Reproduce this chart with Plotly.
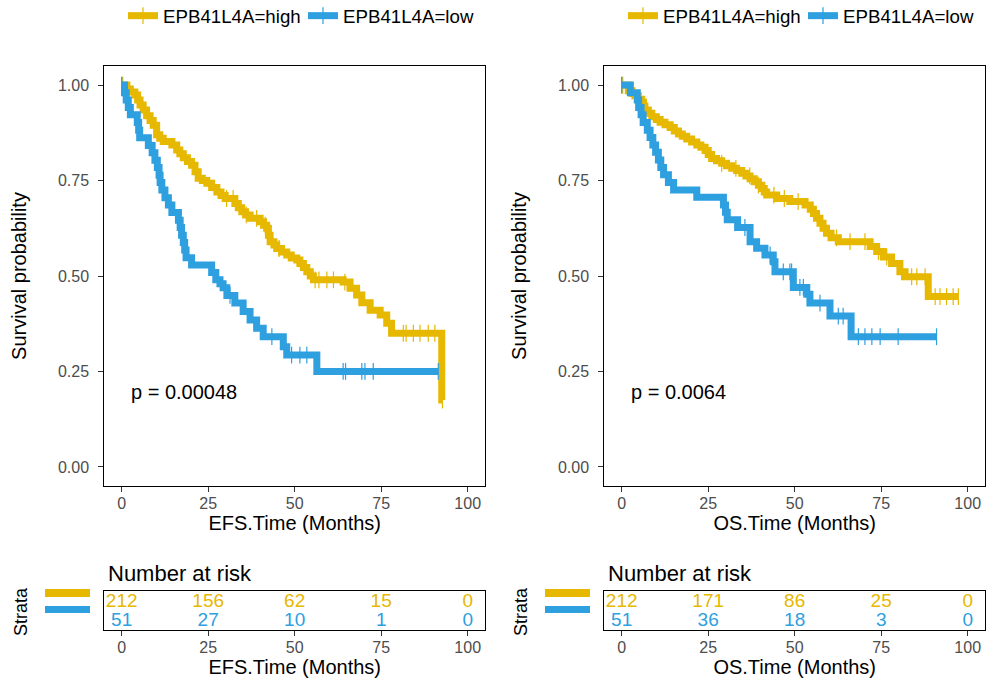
import plotly.graph_objects as go

HIGH_COL = "#E7B800"
LOW_COL = "#2E9FDF"
FONT = "Liberation Sans, Arial, sans-serif"
TICK_COL = "#4D4D4D"

# ---- EFS curves (time in months, survival after each drop) ----
efs_high_t = [1.5, 2.5, 3.8, 4.6, 5.3, 6.2, 7.2, 8.2, 9.1, 10.1, 11.0, 12.0, 14.5, 15.9,
              16.8, 17.8, 19.0, 20.2, 21.2, 22.1, 23.3, 24.6, 26.0, 27.5, 28.7, 29.9,
              32.7, 33.7, 34.7, 35.8, 37.1, 40.0, 41.0, 41.9, 42.4, 42.9, 44.0, 44.8,
              46.2, 47.7, 49.0, 50.6, 51.5, 52.5, 53.5, 54.5, 55.4, 64.0, 66.0, 67.9,
              69.4, 71.8, 74.7, 76.6, 78.0, 92.5]
efs_high_s = [0.990, 0.982, 0.974, 0.961, 0.948, 0.935, 0.920, 0.907, 0.895, 0.870, 0.861,
              0.852, 0.843, 0.830, 0.820, 0.810, 0.800, 0.790, 0.773, 0.756, 0.750, 0.743,
              0.732, 0.720, 0.711, 0.703, 0.690, 0.679, 0.668, 0.660, 0.651, 0.642, 0.633,
              0.625, 0.607, 0.590, 0.581, 0.572, 0.563, 0.555, 0.547, 0.542, 0.533, 0.522,
              0.511, 0.500, 0.490, 0.484, 0.468, 0.450, 0.430, 0.410, 0.398, 0.376, 0.350,
              0.175]
efs_high_cens = [0.3, 30.3, 32.2, 36.0, 39.0, 41.5, 45.5, 55.9, 57.0, 59.3, 61.2, 64.5,
                 81.4, 82.2, 84.3, 86.2, 88.6, 90.5, 92.7]

efs_low_t = [0.8, 1.3, 1.9, 2.5, 4.5, 4.9, 5.2, 7.7, 8.8, 9.6, 10.3, 10.8, 11.1, 11.6,
             12.5, 13.5, 14.5, 16.4, 16.9, 17.3, 17.8, 18.2, 18.6, 20.2, 26.0, 27.2,
             28.4, 29.3, 30.4, 32.7, 35.1, 37.1, 39.0, 40.9, 46.7, 47.7, 56.4]
efs_low_s = [0.980, 0.961, 0.941, 0.922, 0.902, 0.882, 0.862, 0.842, 0.823, 0.803, 0.784,
             0.764, 0.745, 0.725, 0.705, 0.686, 0.666, 0.646, 0.627, 0.607, 0.588, 0.568,
             0.548, 0.529, 0.509, 0.490, 0.480, 0.469, 0.449, 0.429, 0.407, 0.385, 0.363,
             0.341, 0.315, 0.293, 0.250]
efs_low_cens = [31.3, 43.4, 49.1, 51.5, 53.5, 64.0, 64.7, 69.4, 70.3, 72.7, 91.5]

# ---- OS curves ----
os_high_t = [1.9, 3.0, 3.8, 4.8, 5.8, 6.3, 6.7, 7.7, 8.7, 10.0, 11.1, 12.5, 14.0, 15.2,
             16.4, 17.5, 18.8, 20.2, 21.7, 22.9, 24.1, 25.0, 26.0, 27.4, 28.9, 30.3,
             31.8, 33.2, 34.7, 35.9, 37.1, 38.3, 39.5, 40.5, 41.2, 41.9, 44.8, 48.6,
             53.0, 54.5, 55.4, 56.3, 57.3, 58.2, 59.2, 60.5, 62.6, 71.8, 73.7, 75.6,
             78.0, 80.4, 81.9, 88.6]
os_high_s = [0.985, 0.978, 0.972, 0.963, 0.955, 0.945, 0.935, 0.926, 0.917, 0.910, 0.903,
             0.896, 0.889, 0.880, 0.872, 0.866, 0.859, 0.851, 0.843, 0.837, 0.829, 0.818,
             0.808, 0.802, 0.795, 0.789, 0.782, 0.776, 0.769, 0.762, 0.755, 0.747, 0.738,
             0.729, 0.720, 0.712, 0.703, 0.695, 0.686, 0.675, 0.664, 0.651, 0.638, 0.625,
             0.612, 0.600, 0.590, 0.577, 0.564, 0.550, 0.533, 0.511, 0.498, 0.446]
os_high_cens = [0.3, 28.9, 33.0, 37.0, 39.5, 44.0, 47.0, 51.0, 62.1, 66.0, 70.3, 74.2,
                76.6, 80.9, 83.8, 85.3, 87.7, 90.6, 92.0, 93.9, 95.8, 97.3]

os_low_t = [2.5, 4.5, 4.9, 5.6, 6.2, 7.4, 8.2, 9.0, 9.8, 10.6, 11.3, 12.1, 13.5, 15.0,
            21.7, 29.4, 30.0, 30.5, 33.5, 37.1, 39.0, 41.4, 43.8, 44.3, 49.6, 53.5, 54.4,
            60.2, 66.3]
os_low_s = [0.980, 0.961, 0.941, 0.922, 0.902, 0.882, 0.863, 0.843, 0.824, 0.804, 0.784,
            0.765, 0.745, 0.725, 0.706, 0.686, 0.667, 0.647, 0.627, 0.590, 0.573, 0.555,
            0.537, 0.511, 0.470, 0.452, 0.429, 0.395, 0.341]
os_low_cens = [35.6, 42.9, 46.7, 48.6, 49.1, 51.5, 52.5, 53.9, 57.3, 62.6, 64.0, 68.4,
               70.3, 72.3, 74.7, 79.9, 91.0]

# ---- number at risk ----
risk_times = [0, 25, 50, 75, 100]
efs_risk_high = [212, 156, 62, 15, 0]
efs_risk_low = [51, 27, 10, 1, 0]
os_risk_high = [212, 171, 86, 25, 0]
os_risk_low = [51, 36, 18, 3, 0]

efs_pval = "p = 0.00048"
os_pval = "p = 0.0064"
labels = ["EPB41L4A=high", "EPB41L4A=low"]

W, H = 987, 686


def fx(px):
    return px / W


def fy(px):
    return 1 - px / H


def surv_at(times, surv, t):
    s = 1.0
    for ti, si in zip(times, surv):
        if ti <= t:
            s = si
    return s


def km_trace(times, surv, cens, color, name, xa, ya, legend):
    pts = [(0.0, 1.0, 1)]
    pts += [(t, s, 0) for t, s in zip(times, surv)]
    pts += [(c, surv_at(times, surv, c), 1) for c in cens]
    pts.sort(key=lambda p: (p[0], p[2]))
    # censor ticks: only flagged points get a visible marker line
    mcol = [color if p[2] else "rgba(0,0,0,0)" for p in pts]
    return go.Scatter(
        x=[p[0] for p in pts], y=[p[1] for p in pts],
        mode="lines+markers", name=name, xaxis=xa, yaxis=ya, legend=legend,
        line=dict(color=color, width=7, shape="hv"),
        marker=dict(symbol="line-ns", size=12, color=color,
                    line=dict(color=mcol, width=1.2)),
        hoverinfo="skip",
    )


def risk_trace(counts, row, color, xa, ya):
    return go.Scatter(
        x=risk_times, y=[row] * len(risk_times), text=[str(c) for c in counts],
        mode="text", textfont=dict(size=19, color=color, family=FONT),
        xaxis=xa, yaxis=ya, showlegend=False, hoverinfo="skip",
    )


fig = go.Figure()
fig.add_trace(km_trace(efs_high_t, efs_high_s, efs_high_cens, HIGH_COL, labels[0], "x", "y", "legend"))
fig.add_trace(km_trace(efs_low_t, efs_low_s, efs_low_cens, LOW_COL, labels[1], "x", "y", "legend"))
fig.add_trace(km_trace(os_high_t, os_high_s, os_high_cens, HIGH_COL, labels[0], "x2", "y2", "legend2"))
fig.add_trace(km_trace(os_low_t, os_low_s, os_low_cens, LOW_COL, labels[1], "x2", "y2", "legend2"))
fig.add_trace(risk_trace(efs_risk_high, 2, HIGH_COL, "x3", "y3"))
fig.add_trace(risk_trace(efs_risk_low, 1, LOW_COL, "x3", "y3"))
fig.add_trace(risk_trace(os_risk_high, 2, HIGH_COL, "x4", "y4"))
fig.add_trace(risk_trace(os_risk_low, 1, LOW_COL, "x4", "y4"))

box = dict(showline=True, mirror=True, linecolor="black", linewidth=1.3,
           showgrid=False, zeroline=False, ticks="outside", ticklen=5, automargin=False,
           tickcolor="#333333", tickfont=dict(size=16, color=TICK_COL, family=FONT))
xcommon = dict(box, range=[-5, 105], tickvals=risk_times, ticklabelstandoff=-2)
ttl = dict(size=20, color="black", family=FONT)

left_dom = [fx(104.4), fx(485)]
right_dom = [fx(604.4), fx(985)]
main_dom = [fy(486), fy(66)]
risk_dom = [fy(630), fy(591)]
yticks = [0, 0.25, 0.5, 0.75, 1]

fig.update_layout(
    width=W, height=H,
    margin=dict(l=0, r=0, t=0, b=0, autoexpand=False),
    paper_bgcolor="white", plot_bgcolor="white",
    font=dict(family=FONT, color="black"),
    xaxis=dict(xcommon, domain=left_dom, anchor="y",
               title=dict(text="EFS.Time (Months)", font=ttl, standoff=4)),
    yaxis=dict(box, domain=main_dom, anchor="x", range=[-0.05, 1.05],
               tickvals=yticks, tickformat=".2f", ticklabelstandoff=6,
               title=dict(text="Survival probability", font=ttl, standoff=25)),
    xaxis2=dict(xcommon, domain=right_dom, anchor="y2",
                title=dict(text="OS.Time (Months)", font=ttl, standoff=4)),
    yaxis2=dict(box, domain=main_dom, anchor="x2", range=[-0.05, 1.05],
                tickvals=yticks, tickformat=".2f", ticklabelstandoff=6,
                title=dict(text="Survival probability", font=ttl, standoff=25)),
    xaxis3=dict(xcommon, domain=left_dom, anchor="y3",
                title=dict(text="EFS.Time (Months)", font=ttl, standoff=4)),
    yaxis3=dict(box, domain=risk_dom, anchor="x3", range=[0.53, 2.58],
                showticklabels=False, ticks=""),
    xaxis4=dict(xcommon, domain=right_dom, anchor="y4",
                title=dict(text="OS.Time (Months)", font=ttl, standoff=4)),
    yaxis4=dict(box, domain=risk_dom, anchor="x4", range=[0.53, 2.58],
                showticklabels=False, ticks=""),
    legend=dict(orientation="h", x=fx(123), y=fy(16), xanchor="left", yanchor="middle",
                entrywidth=135, entrywidthmode="pixels",
                font=dict(size=18.7, family=FONT), bgcolor="rgba(0,0,0,0)"),
    legend2=dict(orientation="h", x=fx(623), y=fy(16), xanchor="left", yanchor="middle",
                 entrywidth=135, entrywidthmode="pixels",
                 font=dict(size=18.7, family=FONT), bgcolor="rgba(0,0,0,0)"),
)

# p-values
for xa, ya, p in [("x", "y", efs_pval), ("x2", "y2", os_pval)]:
    fig.add_annotation(x=2.2, y=0.197, xref=xa, yref=ya, text=p, showarrow=False,
                       xanchor="left", yanchor="middle",
                       font=dict(size=20, color="black", family=FONT))

# risk-table headers
for x0 in [106, 606]:
    fig.add_annotation(x=fx(x0), y=fy(573), xref="paper", yref="paper",
                       text="Number at risk", showarrow=False, xanchor="left",
                       yanchor="middle", font=dict(size=22, color="black", family=FONT))

for x0 in [21, 521]:
    fig.add_annotation(x=fx(x0), y=fy(612), xref="paper", yref="paper", text="Strata",
                       textangle=-90, showarrow=False, xanchor="center", yanchor="middle",
                       font=dict(size=18, color="black", family=FONT))
    # strata colour keys
    fig.add_shape(type="rect", xref="paper", yref="paper", line_width=0,
                  x0=fx(x0 + 24), x1=fx(x0 + 69), y0=fy(597), y1=fy(589),
                  fillcolor=HIGH_COL)
    fig.add_shape(type="rect", xref="paper", yref="paper", line_width=0,
                  x0=fx(x0 + 24), x1=fx(x0 + 69), y0=fy(613), y1=fy(606),
                  fillcolor=LOW_COL)

# drop the default page margin so the figure fills the window exactly
fig.write_html("out.html", config={"displayModeBar": False},
               post_script="document.body.style.margin='0';"
                           "document.body.style.overflow='hidden';")
